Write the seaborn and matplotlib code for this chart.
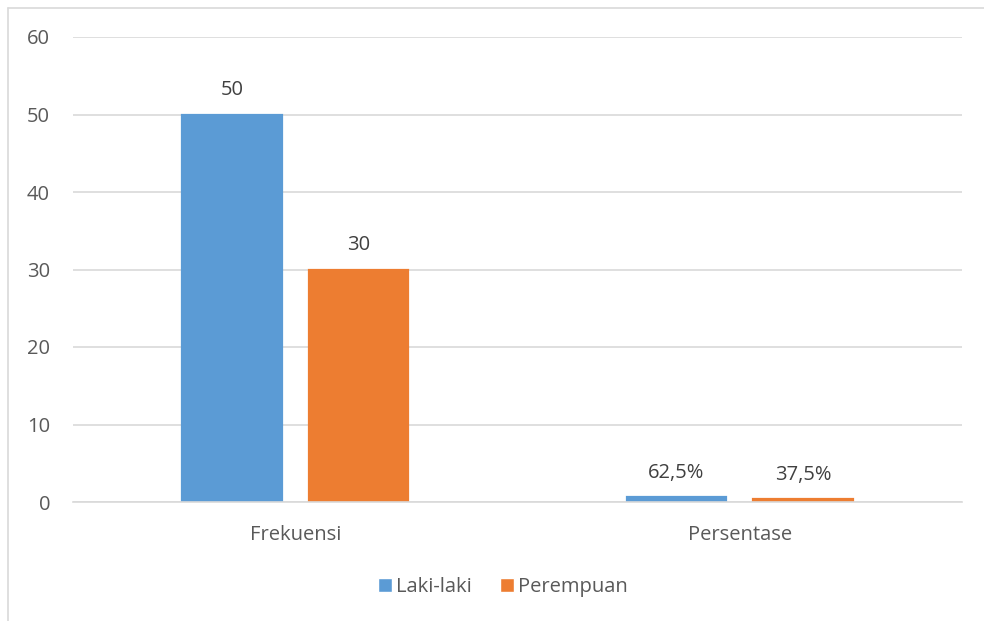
import matplotlib
matplotlib.use("Agg")
import matplotlib.pyplot as plt
import seaborn as sns
import pandas as pd
from matplotlib.patches import Patch
from matplotlib.lines import Line2D

C_BIRU = "#5B9BD5"
C_ORANYE = "#ED7D31"
C_TEKS = "#595959"
C_LABEL = "#404040"
C_GRID = "#D9D9D9"

kategori = ["Frekuensi", "Persentase"]
jenis_kelamin = ["Laki-laki", "Perempuan"]
nilai_laki = [50, 0.625]
nilai_perempuan = [30, 0.375]
label_laki = ["50", "62,5%"]
label_perempuan = ["30", "37,5%"]

df = pd.DataFrame({
    "Kategori": kategori * 2,
    "Jenis": [jenis_kelamin[0]] * 2 + [jenis_kelamin[1]] * 2,
    "Nilai": nilai_laki + nilai_perempuan,
    "Label": label_laki + label_perempuan,
})

sns.set_theme(style="white")
plt.rcParams["font.family"] = ["Open Sans", "DejaVu Sans"]
plt.rcParams["text.color"] = C_TEKS

UKURAN = 14.5

fig = plt.figure(figsize=(9.84, 6.21), dpi=100)
ax = fig.add_axes([73 / 984, 1 - 502 / 621, 889 / 984, 465 / 621])

sns.barplot(
    data=df, x="Kategori", y="Nilai", hue="Jenis",
    palette=[C_BIRU, C_ORANYE], width=0.57, gap=0.215,
    legend=False, ax=ax, linewidth=1.6, saturation=1,
)
for cont, labels, col in zip(ax.containers, [label_laki, label_perempuan], [C_BIRU, C_ORANYE]):
    for p in cont.patches:
        p.set_edgecolor(col)
    ax.bar_label(cont, labels=labels, padding=10.5, fontsize=UKURAN, color=C_LABEL)

ax.set_ylim(0, 60)
ax.set_yticks(range(0, 61, 10))
ax.set_xlim(-0.5, 1.5)
ax.yaxis.grid(True, color=C_GRID, linewidth=1.2)
ax.set_axisbelow(True)
for s in ["top", "right", "left"]:
    ax.spines[s].set_visible(False)
ax.spines["bottom"].set_color(C_GRID)
ax.spines["bottom"].set_linewidth(1.2)
ax.tick_params(axis="y", length=0, pad=16.5, labelsize=UKURAN, labelcolor=C_TEKS)
ax.tick_params(axis="x", length=0, pad=16.5, labelsize=UKURAN, labelcolor=C_TEKS)
ax.set_xlabel("")
ax.set_ylabel("")

handles = [Patch(facecolor=C_BIRU, label=jenis_kelamin[0]),
           Patch(facecolor=C_ORANYE, label=jenis_kelamin[1])]
fig.legend(handles=handles, loc="center", bbox_to_anchor=(503 / 984, 1 - 587 / 621),
           ncol=2, frameon=False, fontsize=UKURAN, handlelength=0.7, handleheight=0.7,
           handletextpad=0.2, columnspacing=1.4, labelcolor=C_TEKS)

# bingkai area grafik
fig.add_artist(Line2D([8 / 984, 1], [1 - 8 / 621, 1 - 8 / 621], color=C_GRID, linewidth=1.2))
fig.add_artist(Line2D([8 / 984, 8 / 984], [0, 1 - 8 / 621], color=C_GRID, linewidth=1.2))

fig.savefig("out.png", dpi=100)
plt.close(fig)
